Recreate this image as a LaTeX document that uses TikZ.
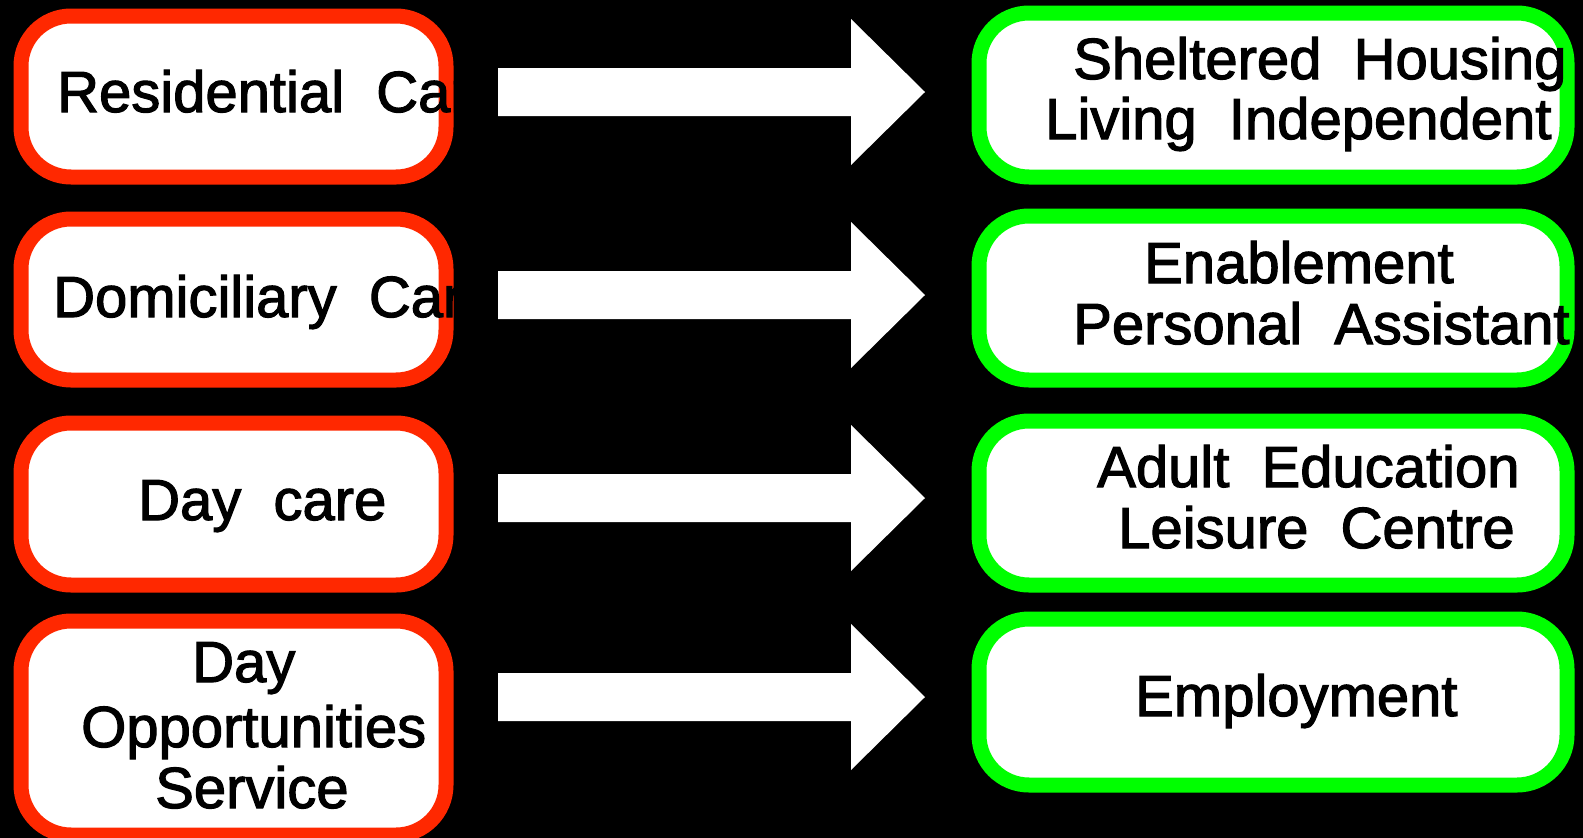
\documentclass[tikz,border=0pt]{standalone}
\usepackage{fontspec}
\setmainfont{Liberation Sans}
\newfontfamily\lblfont{Liberation Sans}[RawFeature={embolden=2}]
\usetikzlibrary{calc}
\definecolor{boxred}{RGB}{255,40,0}
\definecolor{boxgreen}{RGB}{0,255,0}
\newcommand\myclipbox[1]{\clip[rounded corners=57pt] ($(#1.south west)+(-7.5,7.5)$) rectangle ($(#1.north east)+(7.5,-7.5)$);}
\newcommand\myblockarrow[1]{\fill[white] ($(#1)+(0,-24)$) -- ($(#1)+(353,-24)$) -- ($(#1)+(353,-73)$) -- ($(#1)+(427,0)$) -- ($(#1)+(353,73)$) -- ($(#1)+(353,24)$) -- ($(#1)+(0,24)$) -- cycle;}
\begin{document}
\begin{tikzpicture}[x=1pt,y=-1pt,
  lbox/.style={draw=boxred, fill=white, line width=15pt, rounded corners=50pt, inner sep=0pt, minimum width=425pt},
  rbox/.style={draw=boxgreen, fill=white, line width=15pt, rounded corners=50pt, inner sep=0pt, minimum width=588pt},
  lbl/.style={font=\lblfont\fontsize{58}{63}\selectfont, anchor=base west, inner sep=0pt, text=black}]
\fill[black] (0,0) rectangle (1583,838);
\useasboundingbox (0,0) rectangle (1583,838);

% left boxes
\node[lbox, minimum height=161pt] (L1) at (233.5,96.5) {};
\node[lbox, minimum height=161pt] (L2) at (233.5,299.5) {};
\node[lbox, minimum height=162pt] (L3) at (233.5,504) {};
\node[lbox, minimum height=214pt] (L4) at (233.5,728) {};
% right boxes
\node[rbox, minimum height=164pt] (R1) at (1273,95) {};
\node[rbox, minimum height=164pt] (R2) at (1273,298) {};
\node[rbox, minimum height=164pt] (R3) at (1273,503) {};
\node[rbox, minimum height=166pt] (R4) at (1273,702) {};

% texts
\begin{scope}\myclipbox{L1}\node[lbl] (tL1) at (57,112) {Residential\ \ Car};\end{scope}
\begin{scope}\myclipbox{L2}\node[lbl] (tL2) at (53,317) {Domiciliary\ \ Car};\end{scope}
\begin{scope}\myclipbox{L3}\node[lbl] (tL3) at (138,520) {Day\ \ care};\end{scope}
\begin{scope}\myclipbox{L4}
  \node[lbl] (tL4a) at (192,682) {Day};
  \node[lbl] (tL4b) at (81,747) {Opportunities};
  \node[lbl] (tL4c) at (155,808) {Service};
\end{scope}
\begin{scope}\myclipbox{R1}
  \node[lbl] (tR1a) at (1073,79) {Sheltered\ \ Housing};
  \node[lbl] (tR1b) at (1045,139) {Living\ \ Independent};
\end{scope}
\begin{scope}\myclipbox{R2}
  \node[lbl] (tR2a) at (1144,283) {Enablement};
  \node[lbl] (tR2b) at (1073,344) {Personal\ \ Assistant};
\end{scope}
\begin{scope}\myclipbox{R3}
  \node[lbl] (tR3a) at (1097,487) {Adult\ \ Education};
  \node[lbl] (tR3b) at (1118,548) {Leisure\ \ Centre};
\end{scope}
\begin{scope}\myclipbox{R4}
  \node[lbl] (tR4) at (1135,716) {Employment};
\end{scope}

% block arrows
\coordinate (A1) at (498,92);
\coordinate (A2) at (498,295);
\coordinate (A3) at (498,498);
\coordinate (A4) at (498,697);
\myblockarrow{A1}
\myblockarrow{A2}
\myblockarrow{A3}
\myblockarrow{A4}
\end{tikzpicture}
\end{document}
